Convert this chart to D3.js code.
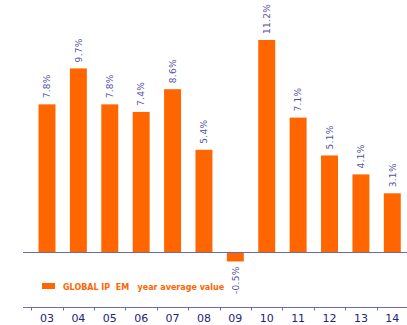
<!DOCTYPE html>
<html>
<head>
<meta charset="utf-8">
<script src="https://cdn.jsdelivr.net/npm/d3@7"></script>
<style>
  body { margin: 0; background: #fff; }
  svg text { font-family: "DejaVu Sans", Verdana, sans-serif; }
</style>
</head>
<body>
<script>
// chart data
var years = ["03", "04", "05", "06", "07", "08", "09", "10", "11", "12", "13", "14"];
var values = [7.8, 9.7, 7.8, 7.4, 8.6, 5.4, -0.5, 11.2, 7.1, 5.1, 4.1, 3.1];
var valueLabels = ["7.8%", "9.7%", "7.8%", "7.4%", "8.6%", "5.4%", "-0.5%", "11.2%", "7.1%", "5.1%", "4.1%", "3.1%"];
var legendText = "GLOBAL IP\u00a0 EM\u00a0\u00a0 year average value";

var width = 407, height = 325;
var orange = "#ff6600";

var svg = d3.select("body").append("svg")
    .attr("width", width)
    .attr("height", height);

// scales
var xBand = d3.scaleBand().domain(years).range([31.3, 408]).paddingInner(0.46).paddingOuter(0.23);
var xCat = d3.scaleBand().domain(years).range([31.3, 408]).padding(0);
var y = d3.scaleLinear().domain([0, 11.2]).range([252, 40]);

// bars
svg.selectAll(".bar")
    .data(values)
  .enter().append("rect")
    .attr("class", "bar")
    .attr("x", function(d, i) { return xBand(years[i]); })
    .attr("width", xBand.bandwidth())
    .attr("y", function(d) { return d >= 0 ? y(d) : y(0); })
    .attr("height", function(d) { return Math.abs(y(d) - y(0)); })
    .style("fill", orange);

// zero line
svg.append("line")
    .attr("x1", 23).attr("x2", 407)
    .attr("y1", y(0) + 0.5).attr("y2", y(0) + 0.5)
    .style("stroke", "#6a6ab0")
    .style("stroke-width", 1.2);

// value labels, rotated
svg.selectAll(".val")
    .data(values)
  .enter().append("text")
    .attr("class", "val")
    .attr("transform", function(d, i) {
      var cx = xBand(years[i]) + xBand.bandwidth() / 2;
      var yy = d >= 0 ? y(d) - 6 : y(d) + 5;
      return "translate(" + cx + "," + yy + ") rotate(-90)";
    })
    .attr("dy", "0.36em")
    .attr("text-anchor", function(d) { return d >= 0 ? "start" : "end"; })
    .style("font-size", "9px")
    .style("letter-spacing", "0.3px")
    .style("fill", "#5252a4")
    .text(function(d, i) { return valueLabels[i]; });

// bottom axis
var axisY = 307.5;
svg.append("line")
    .attr("x1", 23).attr("x2", 407)
    .attr("y1", axisY).attr("y2", axisY)
    .style("stroke", "#6a6ab0")
    .style("stroke-width", 1.2);

svg.selectAll(".tick")
    .data(years)
  .enter().append("line")
    .attr("class", "tick")
    .attr("x1", function(d) { return Math.round(xCat(d)) + 0.5; })
    .attr("x2", function(d) { return Math.round(xCat(d)) + 0.5; })
    .attr("y1", axisY).attr("y2", axisY + 3)
    .style("stroke", "#6a6ab0");

svg.selectAll(".ylab")
    .data(years)
  .enter().append("text")
    .attr("class", "ylab")
    .attr("x", function(d) { return xCat(d) + xCat.bandwidth() / 2; })
    .attr("y", 322)
    .attr("text-anchor", "middle")
    .style("font-size", "11px")
    .style("fill", "#23237e")
    .text(function(d) { return d; });

// legend
svg.append("rect")
    .attr("x", 42).attr("y", 283)
    .attr("width", 13).attr("height", 6)
    .style("fill", orange);

svg.append("text")
    .attr("x", 63).attr("y", 289.5)
    .style("font-size", "8px")
    .style("font-weight", "bold")
    .style("fill", orange)
    .text(legendText);
</script>
</body>
</html>
